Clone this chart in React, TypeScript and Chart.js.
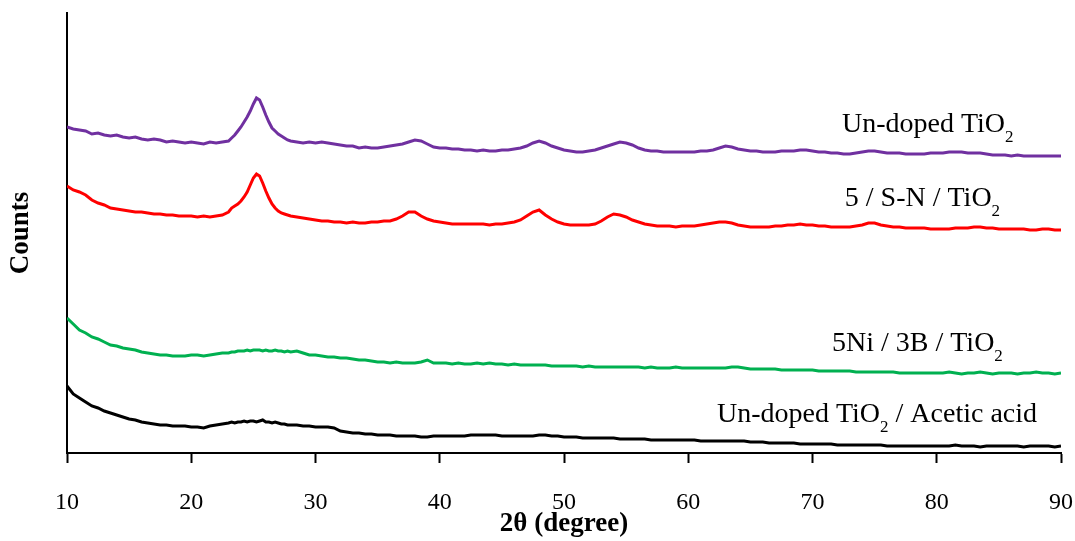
import React, { useEffect, useRef } from "react";
import { Chart, registerables } from "chart.js";

Chart.register(...registerables);

// 2θ grid (degree)
const twoTheta: number[] = [
  10, 10.5, 11, 11.5, 12, 12.5, 13, 13.5, 14, 14.5, 15, 15.5, 16, 16.5, 17, 17.5, 18, 18.5, 19, 19.5, 20, 20.5, 21, 21.5, 22, 22.5, 23,
  23.25, 23.5, 23.75, 24, 24.25, 24.5, 24.75, 25, 25.25, 25.5, 25.75, 26, 26.25, 26.5, 26.75, 27, 27.25, 27.5, 27.75, 28,
  28.5, 29, 29.5, 30,
  30.5, 31, 31.5, 32, 32.5, 33, 33.5, 34, 34.5, 35,
  35.5, 36, 36.5, 37, 37.5, 38, 38.5, 39, 39.5, 40,
  40.5, 41, 41.5, 42, 42.5, 43, 43.5, 44, 44.5, 45,
  45.5, 46, 46.5, 47, 47.5, 48, 48.5, 49, 49.5, 50,
  50.5, 51, 51.5, 52, 52.5, 53, 53.5, 54, 54.5, 55,
  55.5, 56, 56.5, 57, 57.5, 58, 58.5, 59, 59.5, 60,
  60.5, 61, 61.5, 62, 62.5, 63, 63.5, 64, 64.5, 65,
  65.5, 66, 66.5, 67, 67.5, 68, 68.5, 69, 69.5, 70,
  70.5, 71, 71.5, 72, 72.5, 73, 73.5, 74, 74.5, 75,
  75.5, 76, 76.5, 77, 77.5, 78, 78.5, 79, 79.5, 80,
  80.5, 81, 81.5, 82, 82.5, 83, 83.5, 84, 84.5, 85,
  85.5, 86, 86.5, 87, 87.5, 88, 88.5, 89, 89.5, 90,
];

// Counts (offset, arbitrary units)
const undopedTiO2: number[] = [
  326, 324, 323, 322, 319, 320, 318, 317, 318, 316, 315, 316, 314, 313, 314, 313, 311, 312, 311, 310, 311, 310, 309, 311, 310, 311, 312,
  315, 318, 322, 326, 331, 336, 342, 349, 355, 353, 346, 338, 331, 325, 322, 319, 317, 315, 313, 312,
  311, 310, 311, 310,
  311, 310, 309, 308, 307, 307, 305, 306, 305, 305,
  306, 307, 308, 309, 311, 313, 312, 309, 306, 305,
  305, 304, 304, 303, 303, 302, 303, 302, 302, 303,
  303, 304, 305, 307, 310, 312, 310, 307, 305, 303,
  302, 301, 301, 302, 303, 305, 307, 309, 311, 310,
  308, 305, 303, 302, 302, 301, 301, 301, 301, 301,
  301, 302, 302, 303, 305, 307, 306, 304, 303, 302,
  302, 301, 301, 301, 302, 302, 302, 303, 303, 302,
  301, 301, 300, 300, 299, 299, 300, 301, 302, 302,
  301, 300, 300, 300, 299, 299, 299, 299, 300, 300,
  300, 301, 301, 301, 300, 300, 300, 299, 298, 298,
  298, 297, 298, 297, 297, 297, 297, 297, 297, 297,
];

const snTiO2: number[] = [
  267, 263, 261, 258, 253, 250, 248, 245, 244, 243, 242, 241, 241, 240, 239, 239, 238, 238, 237, 237, 237, 236, 237, 236, 237, 238, 241,
  245, 247, 249, 252, 256, 261, 268, 275, 279, 277, 270, 262, 255, 249, 245, 242, 240, 239, 238, 237,
  236, 235, 234, 233,
  232, 232, 231, 231, 230, 231, 230, 230, 231, 231,
  232, 232, 234, 237, 241, 241, 237, 234, 232, 231,
  230, 229, 229, 229, 229, 229, 229, 228, 229, 229,
  230, 231, 233, 237, 241, 243, 238, 234, 231, 229,
  228, 228, 228, 228, 229, 232, 236, 239, 238, 236,
  233, 231, 229, 228, 227, 227, 227, 226, 227, 227,
  227, 228, 229, 230, 231, 231, 230, 228, 227, 226,
  226, 226, 226, 227, 227, 228, 228, 229, 228, 228,
  227, 227, 226, 226, 226, 226, 227, 228, 230, 230,
  228, 227, 226, 226, 225, 225, 225, 225, 224, 224,
  224, 224, 225, 225, 225, 226, 226, 225, 225, 224,
  224, 224, 224, 224, 223, 223, 224, 224, 223, 223,
];

const niBTiO2: number[] = [
  135, 129, 123, 120, 116, 114, 111, 108, 107, 105, 104, 103, 101, 100, 99, 98, 98, 97, 97, 97, 98, 98, 97, 98, 99, 100, 100,
  101, 101, 102, 102, 102, 103, 102, 103, 103, 103, 102, 103, 102, 102, 103, 102, 102, 101, 102, 101,
  102, 100, 98, 98,
  97, 96, 96, 95, 95, 94, 93, 93, 92, 91,
  91, 90, 91, 90, 90, 90, 91, 93, 90, 90,
  90, 89, 90, 89, 89, 90, 89, 90, 89, 89,
  88, 89, 88, 88, 88, 88, 88, 87, 87, 87,
  87, 87, 86, 87, 86, 86, 86, 86, 86, 86,
  86, 86, 85, 86, 85, 85, 85, 86, 85, 85,
  85, 85, 85, 85, 85, 85, 86, 86, 85, 84,
  84, 84, 84, 84, 83, 83, 83, 83, 83, 83,
  82, 82, 82, 82, 82, 82, 81, 81, 81, 81,
  81, 81, 81, 80, 80, 80, 80, 80, 80, 80,
  80, 81, 80, 79, 80, 80, 81, 80, 79, 80,
  80, 80, 79, 80, 80, 81, 80, 80, 79, 80,
];

const undopedAcetic: number[] = [
  67, 59, 55, 51, 47, 45, 42, 40, 38, 36, 34, 33, 31, 30, 29, 28, 28, 27, 27, 27, 26, 26, 25, 27, 28, 29, 30,
  31, 30, 31, 31, 32, 31, 32, 32, 31, 32, 33, 31, 31, 30, 31, 30, 29, 29, 28, 28,
  28, 27, 27, 26,
  26, 26, 25, 22, 21, 20, 20, 19, 19, 18,
  18, 18, 17, 17, 17, 17, 16, 16, 17, 17,
  17, 17, 17, 17, 18, 18, 18, 18, 18, 17,
  17, 17, 17, 17, 17, 18, 18, 17, 17, 16,
  16, 16, 15, 15, 15, 15, 15, 15, 14, 14,
  14, 14, 14, 13, 13, 13, 13, 13, 13, 13,
  13, 12, 12, 12, 12, 12, 12, 12, 12, 11,
  11, 11, 10, 10, 10, 10, 10, 9, 9, 9,
  9, 9, 9, 8, 8, 8, 8, 8, 8, 8,
  8, 7, 7, 7, 7, 7, 7, 7, 7, 7,
  7, 7, 8, 7, 7, 7, 6, 7, 7, 7,
  7, 7, 7, 6, 7, 7, 7, 7, 6, 7,
];

const seriesNames: string[] = ["Un-doped TiO2", "5 / S-N / TiO2", "5Ni / 3B / TiO2", "Un-doped TiO2 / Acetic acid"];
// label text split as [before subscript, subscript, after subscript]
const seriesLabelParts: string[][] = [
  ["Un-doped TiO", "2", ""],
  ["5 / S-N / TiO", "2", ""],
  ["5Ni / 3B / TiO", "2", ""],
  ["Un-doped TiO", "2", " / Acetic acid"],
];
const xTicks: number[] = [10, 20, 30, 40, 50, 60, 70, 80, 90];

const SERIF = "'Liberation Serif', 'Times New Roman', Times, serif";

export default function App() {
  const canvasRef = useRef<HTMLCanvasElement | null>(null);

  useEffect(() => {
    if (!canvasRef.current) return;
    const colors = ["#7030A0", "#FF0000", "#00B050", "#000000"];
    const allSeries = [undopedTiO2, snTiO2, niBTiO2, undopedAcetic];
    // label anchor (left x in 2θ, baseline in counts)
    const anchors = [
      [72.37, 321],
      [72.6, 247],
      [71.57, 102],
      [62.31, 31],
    ];

    const labelPlugin = {
      id: "seriesLabels",
      afterDatasetsDraw(chart: any) {
        const { ctx, scales } = chart;
        ctx.save();
        ctx.fillStyle = "#000";
        ctx.textBaseline = "alphabetic";
        ctx.textAlign = "left";
        seriesLabelParts.forEach((parts, i) => {
          let x = scales.x.getPixelForValue(anchors[i][0]);
          const y = scales.y.getPixelForValue(anchors[i][1]);
          ctx.font = `28px ${SERIF}`;
          ctx.fillText(parts[0], x, y);
          x += ctx.measureText(parts[0]).width;
          ctx.font = `17px ${SERIF}`;
          ctx.fillText(parts[1], x, y + 10);
          x += ctx.measureText(parts[1]).width;
          if (parts[2]) {
            ctx.font = `28px ${SERIF}`;
            ctx.fillText(parts[2], x, y);
          }
        });
        ctx.restore();
      },
    };

    const chart = new Chart(canvasRef.current, {
      type: "line",
      data: {
        datasets: allSeries.map((vals, i) => ({
          label: seriesNames[i],
          data: twoTheta.map((t, j) => ({ x: t, y: vals[j] })),
          borderColor: colors[i],
          backgroundColor: colors[i],
          borderWidth: 3,
          pointRadius: 0,
          tension: 0,
          fill: false,
        })),
      },
      options: {
        animation: false,
        responsive: true,
        maintainAspectRatio: false,
        layout: { padding: { top: 13, right: 0, left: 0, bottom: 0 } },
        plugins: {
          legend: { display: false },
          tooltip: { enabled: false },
        },
        scales: {
          x: {
            type: "linear",
            min: 10,
            max: 90,
            afterBuildTicks: (scale: any) => {
              scale.ticks = xTicks.map((v) => ({ value: v }));
            },
            afterFit: (scale: any) => {
              scale.height = 88;
              scale.paddingRight = 14;
            },
            ticks: {
              color: "#000",
              font: { family: SERIF, size: 24 },
              padding: 25,
              maxRotation: 0,
            },
            grid: {
              display: true,
              drawOnChartArea: false,
              drawTicks: true,
              tickLength: 10,
              tickWidth: 2,
              tickColor: "#000",
              color: "#000",
            },
            border: { display: true, color: "#000", width: 2 },
            title: {
              display: true,
              text: "2θ (degree)",
              color: "#000",
              font: { family: SERIF, size: 27, weight: "bold" },
              padding: { top: 0, bottom: 1 },
            },
          },
          y: {
            type: "linear",
            min: 0,
            max: 440,
            afterFit: (scale: any) => {
              scale.width = 67;
            },
            ticks: { display: false },
            grid: { display: false },
            border: { display: true, color: "#000", width: 2 },
            title: {
              display: true,
              text: "Counts",
              color: "#000",
              font: { family: SERIF, size: 27, weight: "bold" },
              padding: { top: 5, bottom: 0 },
            },
          },
        },
      },
      plugins: [labelPlugin],
    });
    return () => chart.destroy();
  }, []);

  return (
    <div style={{ position: "absolute", left: 0, top: 0, width: 1075, height: 541, background: "#fff" }}>
      <canvas ref={canvasRef} />
    </div>
  );
}
